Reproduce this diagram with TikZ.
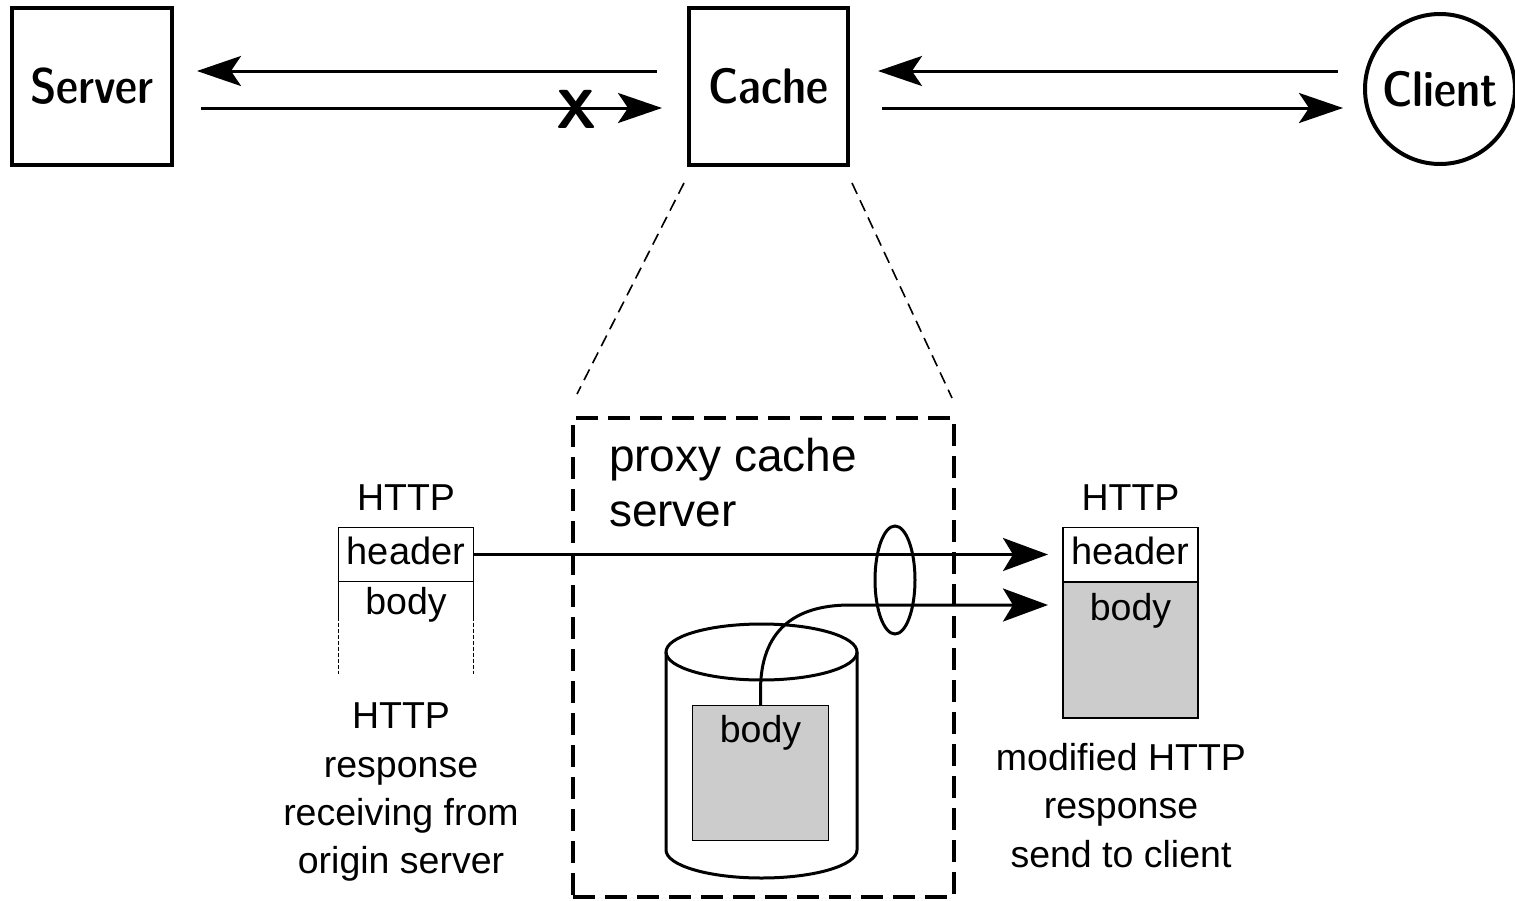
\documentclass[tikz,border=0pt]{standalone}
\usepackage{fontspec}
\setmainfont{Liberation Sans}
\usetikzlibrary{arrows.meta,shapes.geometric}
\definecolor{boxgray}{HTML}{CCCCCC}
\tikzset{
  topfont/.style={font=\fontfamily{lmss}\fontseries{sbc}\fontsize{50}{60}\selectfont},
  topbox/.style={draw, line width=4pt, rectangle, inner sep=0pt, outer sep=0pt, topfont},
  toparr/.style={line width=3pt, -{Stealth[length=44pt,width=30pt,inset=10pt]}},
  bigarr/.style={line width=3pt, -{Stealth[length=45pt,width=33pt,inset=10pt]}},
  lbl/.style={font=\fontsize{37.5}{48.3}\selectfont, inner sep=0pt, outer sep=0pt, align=center},
  cell/.style={draw, line width=1.5pt, inner sep=0pt, outer sep=0pt, minimum width=135pt, minimum height=54pt, text height=27pt, text depth=8pt, font=\fontsize{38}{45}\selectfont},
  zoomline/.style={line width=1.6pt, dash pattern=on 12pt off 7pt},
  dotside/.style={line width=1.8pt, dash pattern=on 4pt off 2pt},
  cyl/.style={line width=3pt},
}
\begin{document}
\begin{tikzpicture}[x=1pt,y=-1pt]
\useasboundingbox (0,0) rectangle (1515,900);
% top row
\node[topbox, minimum width=160pt, minimum height=157pt] (server) at (92,86.5) {Server};
\node[topbox, minimum width=159pt, minimum height=157pt] (cache) at (768.5,86.5) {Cache};
\node[draw, circle, line width=4pt, minimum size=150pt, inner sep=0pt, outer sep=0pt, topfont] (client) at (1440,89) {Client};
\draw[toparr] ([shift={(-32,-15.5)}]cache.west) -- ([shift={(25,-15.5)}]server.east);
\draw[toparr] ([shift={(29,21.5)}]server.east) -- ([shift={(-27,21.5)}]cache.west);
\draw[toparr] ([shift={(-27,-18)}]client.west) -- ([shift={(30,-15.5)}]cache.east);
\draw[toparr] ([shift={(34,21.5)}]cache.east) -- ([shift={(-22,19)}]client.west);
\node[font=\fontfamily{lmss}\fontseries{bx}\fontsize{55}{60}\selectfont, inner sep=0pt] (x) at (577,109) {X};
% proxy box
\node[draw, line width=3.5pt, dash pattern=on 22pt off 10pt, minimum width=381pt, minimum height=479pt, inner sep=0pt, outer sep=0pt] (proxy) at (763.5,657.5) {};
\draw[zoomline] ([shift={(-5,18)}]cache.south west) -- ([shift={(4,-24)}]proxy.north west);
\draw[zoomline] ([shift={(4,18)}]cache.south east) -- ([shift={(-2,-20)}]proxy.north east);
\node[lbl, font=\fontsize{46}{55}\selectfont, align=left, anchor=north west] (ptitle) at (609,438) {proxy cache\\server};
% left HTTP message
\node[lbl, anchor=base] (lhttp) at (406,510) {HTTP};
\node[cell] (lheader) at (406,554.5) {header};
\draw[line width=1.5pt] (lheader.south west) -- ++(0,35) coordinate (lsw);
\draw[line width=1.5pt] (lheader.south east) -- ++(0,35) coordinate (lse);
\draw[dotside] (lsw) -- ++(0,57);
\draw[dotside] (lse) -- ++(0,57);
\node[lbl, anchor=base] (lbody) at (406,614) {body};
\node[lbl, anchor=north] (ltext) at (401,703) {HTTP\\response\\receiving from\\origin server};
% right HTTP message
\node[lbl, anchor=base] (rhttp) at (1130.5,510) {HTTP};
\node[draw, line width=1.5pt, fill=boxgray, minimum width=135pt, minimum height=136pt, inner sep=0pt, outer sep=0pt] (rbody) at (1130.5,650) {};
\node[cell, fill=white] (rheader) at (1130.5,554.5) {header};
\node[lbl, anchor=base] (rbodytxt) at (1130.5,620) {body};
\node[lbl, anchor=north] (rtext) at (1121,743.5) {modified HTTP\\response\\send to client};
% cylinder
\draw[cyl, fill=white] (666,652) -- (666,850) arc[start angle=180, end angle=0, x radius=95.5, y radius=28] -- (857,652);
\draw[cyl] (761.5,652) ellipse[x radius=95.5, y radius=28];
\node[draw, line width=1.5pt, fill=boxgray, minimum width=136pt, minimum height=135pt, inner sep=0pt, outer sep=0pt] (cbody) at (760.5,773) {};
\node[lbl, anchor=base] (cbodytxt) at (760.5,742) {body};
% ring
\node[draw, ellipse, line width=3pt, minimum width=40pt, minimum height=108pt, inner sep=0pt] (ring) at (895,580) {};
% arrows
\draw[bigarr] (lheader.east) -- ([xshift=-15pt]rheader.west);
\draw[bigarr] (cbody.north) -- ++(0,-15) .. controls (760.5,630) and (795,605) .. (850,605) -- ([shift={(-15,-45)}]rbody.west);
\end{tikzpicture}
\end{document}
